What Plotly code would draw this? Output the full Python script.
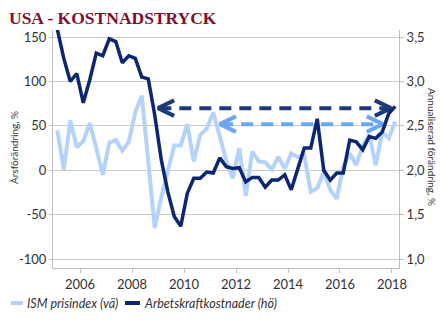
import numpy as np
import pandas as pd
import plotly.graph_objects as go

# ---- data (quarterly, 2005Q1 - 2018Q1) ----
quarters = pd.period_range("2005Q1", "2018Q1", freq="Q")
ism_prisindex = [45, 1, 56, 26, 33, 53, 25, -5, 31, 34, 22, 32, 65, 84, 10, -65,
                 -30, -2, 28, 28, 52, 10, 40, 47, 65, 38, 11, -9, 25, -29, 21, 10,
                 9, 1, 15, 2, 19, 15, 17, -24, -20, -2, -22, -32, 4, 19, 6, 28,
                 40, 6, 43, 36, 55]
arbetskraftkostnader = [3.59, 3.26, 3.00, 3.09, 2.76, 3.02, 3.32, 3.29, 3.48, 3.45, 3.21,
                        3.29, 3.26, 3.05, 3.03, 2.62, 2.12, 1.76, 1.48, 1.37, 1.74, 1.91,
                        1.91, 1.98, 1.97, 2.14, 2.04, 2.02, 2.03, 1.87, 1.92, 1.92, 1.81,
                        1.89, 1.89, 1.95, 1.78, 2.02, 2.25, 2.25, 2.58, 2.00, 1.89, 1.97,
                        1.97, 2.34, 2.32, 2.23, 2.38, 2.36, 2.43, 2.64, 2.72]
x_tick_years = [2006, 2008, 2010, 2012, 2014, 2016, 2018]
left_ticks = [150, 100, 50, 0, -50, -100]
right_ticks = [3.5, 3.0, 2.5, 2.0, 1.5, 1.0]

# arrows (level on left axis, start year, end year)
arrow_dark = dict(level=70, x0=2009.0, x1=2017.96)
arrow_light = dict(level=52, x0=2011.38, x1=2017.65)

x = np.array([p.year + (p.quarter - 1) * 0.25 + 0.125 for p in quarters])

C_DARK = "#0c2672"
C_LIGHT = "#b5d3fa"
C_ARR_DARK = "#1a3b7a"
C_ARR_LIGHT = "#6aa6f2"
GRID = "#c9c9c9"
TXT = "#333333"
FONT = "Lato"

fig = go.Figure()
fig.add_trace(go.Scatter(x=x, y=ism_prisindex, mode="lines", name="ISM prisindex (vä)",
                         line=dict(color=C_LIGHT, width=4), yaxis="y", showlegend=False))
fig.add_trace(go.Scatter(x=x, y=arbetskraftkostnader, mode="lines", name="Arbetskraftkostnader (hö)",
                         line=dict(color=C_DARK, width=3.5), yaxis="y2", showlegend=False))

# arrow geometry helpers (chevron size in data units)
DX, DY = 0.62, 8.7
def add_arrow(spec, color):
    lv, a, b = spec["level"], spec["x0"], spec["x1"]
    fig.add_trace(go.Scatter(x=[a + 0.05, b - 0.05], y=[lv, lv], mode="lines",
                             line=dict(color=color, width=4, dash="12px,8px"),
                             showlegend=False, hoverinfo="skip"))
    cx = [a + DX, a, a + DX, None, b - DX, b, b - DX]
    cy = [lv + DY, lv, lv - DY, None, lv + DY, lv, lv - DY]
    fig.add_trace(go.Scatter(x=cx, y=cy, mode="lines", line=dict(color=color, width=4),
                             showlegend=False, hoverinfo="skip"))

add_arrow(arrow_dark, C_ARR_DARK)
add_arrow(arrow_light, C_ARR_LIGHT)

W, H = 446, 327
ml, mr, mt, mb = 53, 47, 30, 59
pw, ph = W - ml - mr, H - mt - mb
def px(xp):
    return (xp - ml) / pw
def py(yp):
    return (H - mb - yp) / ph

fig.update_layout(
    width=W, height=H, margin=dict(l=ml, r=mr, t=mt, b=mb),
    paper_bgcolor="white", plot_bgcolor="white",
    separators=", ",
    font=dict(family=FONT, size=13, color=TXT),
    xaxis=dict(range=[2004.96, 2018.27], tickvals=x_tick_years,
               ticktext=[str(v) for v in x_tick_years],
               showgrid=False, zeroline=False, showline=True, linecolor="#bfbfbf",
               ticks="outside", ticklen=4, tickcolor="#bfbfbf", tickfont=dict(size=13)),
    yaxis=dict(range=[-110, 158], tickvals=left_ticks,
               ticktext=[str(v) for v in left_ticks],
               showgrid=True, gridcolor=GRID, gridwidth=1, zeroline=False,
               showline=True, linecolor="#bfbfbf", ticks="outside", ticklen=3,
               tickcolor="#bfbfbf", tickfont=dict(size=13)),
    yaxis2=dict(range=[0.9, 3.58], tickvals=right_ticks, tickformat=".1f",
                overlaying="y", side="right", showgrid=False, zeroline=False,
                showline=True, linecolor="#bfbfbf", ticks="outside", ticklen=4,
                tickcolor="#bfbfbf", tickfont=dict(size=13)),
)

annotations = [
    dict(text="<b>USA - KOSTNADSTRYCK</b>", x=px(7), y=py(18), xanchor="left", yanchor="middle",
         font=dict(family="Liberation Serif", size=17.5, color="#7b1130")),
    dict(text="Årsförändring, %", x=px(14), y=py(148), textangle=-90,
         xanchor="center", yanchor="middle", font=dict(size=10, color=TXT)),
    dict(text="Annualiserad förändring, %", x=px(432), y=py(147), textangle=90,
         xanchor="center", yanchor="middle", font=dict(size=10, color=TXT)),
    dict(text="<i>ISM prisindex (vä)</i>", x=px(25), y=py(303), xanchor="left",
         yanchor="middle", font=dict(size=12.5, color=TXT)),
    dict(text="<i>Arbetskraftkostnader (hö)</i>", x=px(142), y=py(303), xanchor="left",
         yanchor="middle", font=dict(size=12.5, color=TXT)),
]
for a in annotations:
    a.update(xref="paper", yref="paper", showarrow=False)
fig.update_layout(annotations=annotations)

fig.add_shape(type="line", xref="paper", yref="paper", x0=px(11), x1=px(23),
              y0=py(303), y1=py(303), line=dict(color=C_LIGHT, width=4))
fig.add_shape(type="line", xref="paper", yref="paper", x0=px(125), x1=px(140),
              y0=py(303), y1=py(303), line=dict(color=C_DARK, width=4))

fig.write_html("out.html")
